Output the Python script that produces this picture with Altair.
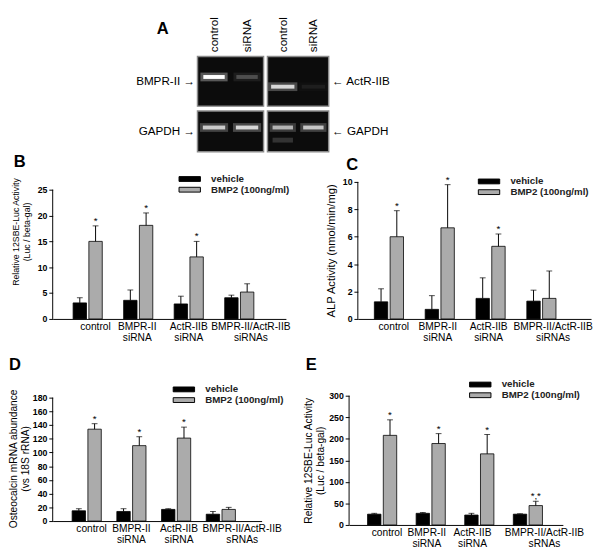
import altair as alt
import pandas as pd

FONT = "Liberation Sans"

# ---------------- data ----------------
treatments = ["vehicle", "BMP2 (100ng/ml)"]
bar_colors = ["#000000", "#ababab"]

cats_siRNAs = ["control", "BMPR-II\nsiRNA", "ActR-IIB\nsiRNA", "BMPR-II/ActR-IIB\nsiRNAs"]
cats_sRNAs = ["control", "BMPR-II\nsiRNA", "ActR-IIB\nsiRNA", "BMPR-II/ActR-IIB\nsRNAs"]

# Panel B (12SBE-Luc)
b_vehicle = [3.1, 3.6, 2.9, 4.1]
b_vehicle_top = [4.1, 5.6, 4.4, 4.6]
b_bmp2 = [15.0, 18.1, 12.0, 5.2]
b_bmp2_top = [18.0, 20.5, 15.0, 6.8]
b_marks = ["*", "*", "*", ""]

# Panel C (ALP activity)
c_vehicle = [1.25, 0.7, 1.5, 1.3]
c_vehicle_top = [2.2, 1.7, 3.0, 2.1]
c_bmp2 = [6.0, 6.65, 5.3, 1.5]
c_bmp2_top = [7.9, 9.8, 6.2, 3.5]
c_marks = ["*", "*", "*", ""]

# Panel D (Osteocalcin mRNA)
d_vehicle = [15, 14, 17, 10]
d_vehicle_top = [18, 18, 18, 14]
d_bmp2 = [134, 110, 121, 17]
d_bmp2_top = [142, 123, 137, 20]
d_marks = ["*", "*", "*", ""]

# Panel E (12SBE-Luc)
e_vehicle = [25, 27, 23, 25]
e_vehicle_top = [27, 29, 27, 26]
e_bmp2 = [208, 189, 165, 45]
e_bmp2_top = [244, 212, 210, 55]
e_marks = ["*", "*", "*", "*,*"]

# Panel A (gel band intensities)
gel_lanes = ["control", "siRNA"]
bmpr2_band = [1.0, 0.22]
actr2b_band = [0.78, 0.06]
gapdh_left_band = [0.72, 0.78]
gapdh_right_band = [0.62, 0.70]
gapdh_right_lower_band = [0.16, 0.0]


# ---------------- helpers ----------------
def label_offsets(o):
    return {
        "condition": [
            {"test": "datum.value == 'control'", "value": o[0]},
            {"test": "indexof(datum.value, 'BMPR-II') == 0 && indexof(datum.value, '/') < 0", "value": o[1]},
            {"test": "indexof(datum.value, 'ActR') == 0", "value": o[2]},
        ],
        "value": o[3],
    }


def bar_panel(cats, veh, veh_top, bmp, bmp_top, marks, letter, ytitle, ymax, ystep, dom_max,
              W, H, first, step, title_size, title_lh, legend_x, legend_y, legend_rowpad,
              letter_offset, letter_dx, offs, title_y=None, title_pad=4):
    rows = []
    for i, c in enumerate(cats):
        rows.append({"cat": c, "trt": treatments[0], "val": veh[i], "hi": veh_top[i], "star": ""})
        rows.append({"cat": c, "trt": treatments[1], "val": bmp[i], "hi": bmp_top[i], "star": marks[i]})
    df = pd.DataFrame(rows)

    band = 30.0
    pi = 1 - band / step
    extra = W - step * (4 - pi)
    po = extra / step / 2
    al = min(max((first - band / 2) / extra, 0.0), 1.0)

    x = alt.X("cat:N", sort=cats,
              scale=alt.Scale(paddingInner=pi, paddingOuter=po, align=al),
              axis=alt.Axis(title=None, ticks=False, labelAngle=0,
                            labelExpr="split(datum.label, '\\n')",
                            labelFontSize=10.5, labelPadding=3, labelOffset=label_offsets(offs),
                            labelLineHeight=11, domainColor="black", labelColor="black"))
    xo = alt.XOffset("trt:N", sort=treatments,
                     scale=alt.Scale(paddingInner=0.15, paddingOuter=0))
    ax_kw = dict(values=list(range(0, ymax + 1, ystep)), tickSize=4, tickColor="black",
                 domain=False, labelColor="black", labelFontSize=9,
                 labelFontWeight="bold", title=ytitle, titleFontSize=title_size,
                 titleFontWeight="normal", titleColor="black", titleLineHeight=title_lh,
                 titlePadding=title_pad)
    if title_y is not None:
        ax_kw["titleY"] = title_y
    yax = alt.Axis(**ax_kw)
    ysc = alt.Scale(domain=[0, dom_max], nice=False)

    color = alt.Color("trt:N", sort=treatments,
                      scale=alt.Scale(domain=treatments, range=bar_colors),
                      legend=alt.Legend(title=None, orient="none", legendX=legend_x, legendY=legend_y,
                                        symbolType="M-2,-0.45H2V0.45H-2Z", symbolSize=121,
                                        symbolStrokeColor="black", symbolStrokeWidth=1,
                                        symbolOpacity=1, labelFontSize=10, labelFontWeight="bold",
                                        labelColor="#222222", rowPadding=legend_rowpad,
                                        labelOffset=16))

    base = alt.Chart(df)
    bars = base.mark_bar(stroke="black", strokeWidth=0.8).encode(
        x=x, xOffset=xo, y=alt.Y("val:Q", scale=ysc, axis=yax), color=color)
    err = base.mark_rule(color="black", strokeWidth=1).encode(
        x=x, xOffset=xo, y=alt.Y("val:Q", scale=ysc, axis=yax), y2="hi:Q")
    cap = base.mark_tick(color="black", orient="horizontal", size=6, thickness=1).encode(
        x=x, xOffset=xo, y=alt.Y("hi:Q", scale=ysc, axis=yax))
    star = base.mark_text(fontSize=10, fill="black", baseline="alphabetic", dy=-2).encode(
        x=x, xOffset=xo, y=alt.Y("hi:Q", scale=ysc, axis=yax), text="star:N")
    # y-axis line drawn only over the labelled range (0 .. top tick)
    axis_line = alt.Chart(pd.DataFrame({"lo": [0], "top": [ymax]})).mark_rule(
        color="black", strokeWidth=1).encode(
        x=alt.value(0), y=alt.Y("lo:Q", scale=ysc, axis=yax), y2="top:Q")

    return alt.layer(bars, err, cap, star, axis_line).properties(
        width=W, height=H,
        title=alt.TitleParams(letter, anchor="start", fontSize=17, fontWeight="bold",
                              color="black", offset=letter_offset, dx=letter_dx))


def gel(gene, intens, W, H, side, top_axis, shift, core_w, lower=None, lower_shift=0, title=None):
    df = pd.DataFrame({"lane": gel_lanes, "gene": [gene] * 2, "inten": intens})
    if lower is not None:
        df["low"] = lower
    if top_axis:
        xax = alt.Axis(orient="top", labelAngle=-90, ticks=False, domain=False,
                       labelFontSize=12, labelPadding=5, title=None, labelColor="black")
    else:
        xax = None
    x = alt.X("lane:N", sort=gel_lanes, scale=alt.Scale(paddingInner=0, paddingOuter=0), axis=xax)
    lab = "datum.label + ' \u2192'" if side == "left" else "'\u2190 ' + datum.label"
    y = alt.Y("gene:N", scale=alt.Scale(paddingInner=0, paddingOuter=0),
              axis=alt.Axis(orient=side, ticks=False, domain=False, labelExpr=lab,
                            labelFontSize=12, labelPadding=3, title=None, labelColor="black"))
    base = alt.Chart(df).transform_calculate(glow="datum.inten * 0.35")
    layers = [
        base.mark_tick(orient="horizontal", color="#e8e8e8", thickness=9, size=core_w + 6,
                       yOffset=shift).encode(x=x, y=y, opacity=alt.Opacity("glow:Q", scale=None)),
        base.mark_tick(orient="horizontal", color="#ffffff", thickness=4, size=core_w,
                       yOffset=shift).encode(x=x, y=y, opacity=alt.Opacity("inten:Q", scale=None)),
    ]
    if lower is not None:
        layers.append(
            base.mark_tick(orient="horizontal", color="#ffffff", thickness=5, size=core_w,
                           yOffset=lower_shift).encode(x=x, y=y, opacity=alt.Opacity("low:Q", scale=None)))
    ch = alt.layer(*layers).properties(
        width=W, height=H,
        view=alt.ViewBackground(fill="#0c0c0c", stroke="#8a8a8a", strokeWidth=1.5))
    if title is not None:
        ch = ch.properties(title=title)
    return ch


# ---------------- panel A ----------------
titleA = alt.TitleParams("A", anchor="start", frame="group", fontSize=17, fontWeight="bold",
                         color="black", offset=0, dx=-42, dy=22)
TL = gel("BMPR-II", bmpr2_band, 68, 51, "left", True, -4.5, 22, title=titleA)
TR = gel("ActR-IIB", actr2b_band, 63, 51, "right", True, 5.5, 24)
BL = gel("GAPDH", gapdh_left_band, 68, 42, "left", False, -4, 23)
BR = gel("GAPDH", gapdh_right_band, 63, 42, "right", False, -4, 21,
         lower=gapdh_right_lower_band, lower_shift=9)
gels = alt.concat(TL, TR, BL, BR, columns=2, spacing={"row": 3, "column": 2}, align="each")

spacer = alt.Chart(pd.DataFrame({"s": [0]})).mark_point(opacity=0).properties(width=84, height=20)
rowA = alt.hconcat(spacer, gels, spacing=0)

# ---------------- panels B-E ----------------
pB = bar_panel(cats_siRNAs, b_vehicle, b_vehicle_top, b_bmp2, b_bmp2_top, b_marks, "B",
               ["Relative 12SBE-Luc Activity", "(Luc / beta-gal)"], 25, 5, 26.5,
               W=240, H=141, first=36, step=52, title_size=9, title_lh=11,
               legend_x=135, legend_y=-9, legend_rowpad=-2, letter_offset=2, letter_dx=2,
               offs=[8, -1, 0, 12], title_y=51, title_pad=6)
pC = bar_panel(cats_siRNAs, c_vehicle, c_vehicle_top, c_bmp2, c_bmp2_top, c_marks, "C",
               "ALP Activity (nmol/min/mg)", 10, 2, 10,
               W=240, H=141, first=32, step=52.3, title_size=11.5, title_lh=13,
               legend_x=129, legend_y=-6.5, legend_rowpad=0, letter_offset=1, letter_dx=21,
               offs=[5, -2, -2, 12], title_pad=6)
pD = bar_panel(cats_sRNAs, d_vehicle, d_vehicle_top, d_bmp2, d_bmp2_top, d_marks, "D",
               ["Osteocalcin mRNA abundance", "(vs 18S rRNA)"], 180, 20, 182.8,
               W=215, H=129, first=35, step=46, title_size=10.5, title_lh=12,
               legend_x=129, legend_y=-12.5, legend_rowpad=-2, letter_offset=10, letter_dx=0,
               offs=[5, 0, 3, 22], title_pad=2)
pE = bar_panel(cats_sRNAs, e_vehicle, e_vehicle_top, e_bmp2, e_bmp2_top, e_marks, "E",
               ["Relative 12SBE-Luc Activity", "(Luc / beta-gal)"], 300, 50, 300,
               W=220, H=133, first=34, step=50, title_size=10.5, title_lh=12.5,
               legend_x=129, legend_y=-17.5, legend_rowpad=-1, letter_offset=5, letter_dx=2,
               offs=[5, -4, -7, 17], title_pad=3)

row1 = alt.hconcat(pB, pC, spacing=35).resolve_scale(color="independent").resolve_legend(color="independent")
row2 = alt.hconcat(pD, pE, spacing=20).resolve_scale(color="independent").resolve_legend(color="independent")

upper = alt.vconcat(rowA, row1, spacing=1).resolve_scale(
    color="independent").resolve_legend(color="independent")
chart = alt.vconcat(upper, row2, spacing=13).resolve_scale(
    color="independent").resolve_legend(color="independent").properties(
    padding={"left": 0, "top": 0, "right": 0, "bottom": 0}
).configure(font=FONT).configure_view(stroke=None).configure_axis(grid=False)

chart.save("out.html", embed_options={"renderer": "svg", "actions": False})
